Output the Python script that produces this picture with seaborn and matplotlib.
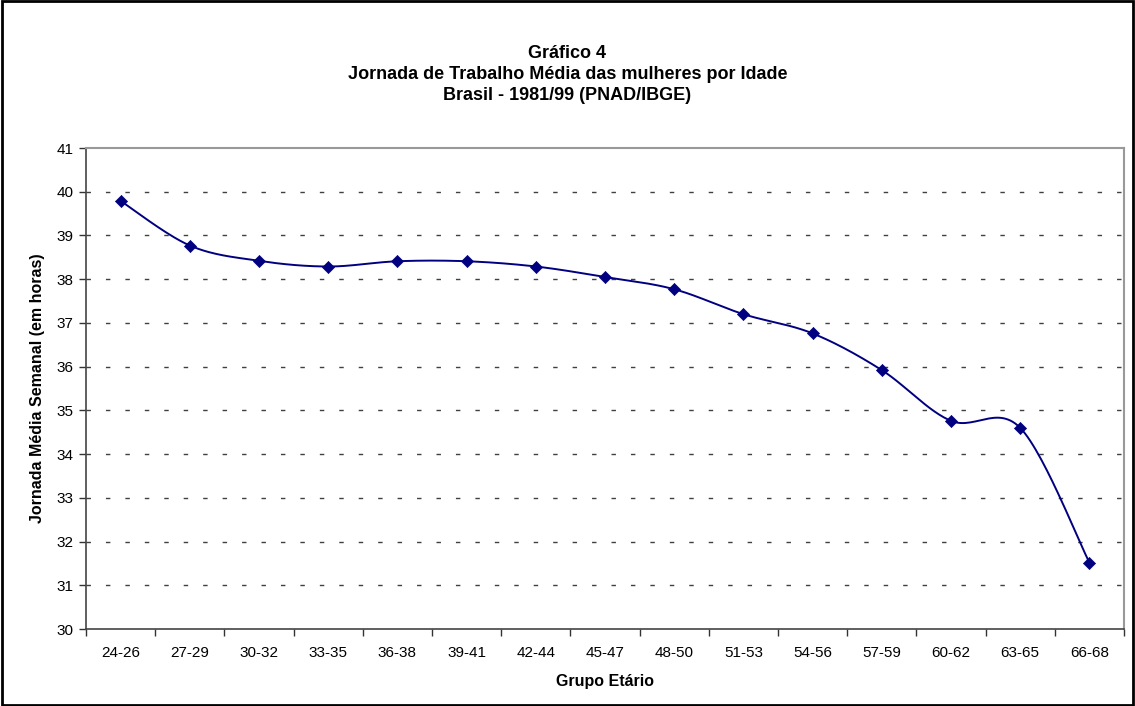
import numpy as np
import pandas as pd
import matplotlib
matplotlib.use("Agg")
import matplotlib.pyplot as plt
import seaborn as sns
from matplotlib.patches import Rectangle

categories = ["24-26", "27-29", "30-32", "33-35", "36-38", "39-41", "42-44", "45-47",
              "48-50", "51-53", "54-56", "57-59", "60-62", "63-65", "66-68"]
values = [39.79, 38.77, 38.42, 38.29, 38.41, 38.41, 38.29, 38.05,
          37.77, 37.20, 36.76, 35.92, 34.76, 34.60, 31.52]
y_ticks = list(range(30, 42))

sns.set_theme(style="white")
plt.rcParams["font.family"] = ["Liberation Sans", "DejaVu Sans"]
plt.rcParams["text.color"] = "black"
plt.rcParams["axes.labelcolor"] = "black"
plt.rcParams["xtick.color"] = "black"
plt.rcParams["ytick.color"] = "black"

df = pd.DataFrame({"pos": np.arange(len(categories)), "val": values, "cat": categories})

# Catmull-Rom style smoothing (like Excel "smoothed line") for drawing the curve
def smooth(x, y, n=30):
    x = np.asarray(x, float); y = np.asarray(y, float)
    px = np.concatenate([[x[0]], x, [x[-1]]]); py = np.concatenate([[y[0]], y, [y[-1]]])
    xs, ys = [], []
    for i in range(1, len(px) - 2):
        p0, p1, p2, p3 = (np.array([px[j], py[j]]) for j in (i - 1, i, i + 1, i + 2))
        c1 = p1 + (p2 - p0) / 6.0
        c2 = p2 - (p3 - p1) / 6.0
        t = np.linspace(0, 1, n)[:, None]
        pts = (1 - t) ** 3 * p1 + 3 * (1 - t) ** 2 * t * c1 + 3 * (1 - t) * t ** 2 * c2 + t ** 3 * p2
        xs.append(pts[:, 0]); ys.append(pts[:, 1])
    return np.concatenate(xs), np.concatenate(ys)

sx, sy = smooth(df["pos"], df["val"])
curve = pd.DataFrame({"x": sx, "y": sy})

fig = plt.figure(figsize=(11.35, 7.06), dpi=100)
ax = fig.add_axes([86 / 1135, 1 - 629 / 706, (1124 - 86) / 1135, (629 - 148) / 706])

navy = "#000080"
sns.lineplot(data=curve, x="x", y="y", ax=ax, color=navy, linewidth=1.4, sort=False, estimator=None)
sns.scatterplot(data=df, x="pos", y="val", ax=ax, marker="D", s=38, color=navy,
                edgecolor=navy, linewidth=0.5, zorder=5)

ax.set_xlim(-0.5, len(categories) - 0.5)
ax.set_ylim(30, 41)
ax.set_yticks(y_ticks)
ax.set_yticklabels([str(v) for v in y_ticks], fontsize=11)
ax.set_xticks(df["pos"])
ax.set_xticklabels(categories, fontsize=11)
ax.set_xticks(np.arange(-0.5, len(categories), 1), minor=True)
ax.tick_params(axis="x", which="major", length=0, pad=12)
ax.tick_params(axis="x", which="minor", length=5, width=1, color="#333333", direction="out", bottom=True)
ax.tick_params(axis="y", which="major", length=5, width=1, color="#333333", direction="out", left=True, pad=4)

for v in y_ticks[1:-1]:
    ax.axhline(v, color="#404040", linestyle=(0, (3.2, 10.8)), linewidth=1, zorder=1)

for side in ["left", "bottom"]:
    ax.spines[side].set_color("#444444"); ax.spines[side].set_linewidth(1.2)
for side in ["top", "right"]:
    ax.spines[side].set_color("#999999"); ax.spines[side].set_linewidth(1.5)

ax.set_xlabel("Grupo Etário", fontsize=11.5, fontweight="bold", labelpad=10)
ax.set_ylabel("Jornada Média Semanal (em horas)", fontsize=11.5, fontweight="bold", labelpad=8)

title_lines = ["Gráfico 4", "Jornada de Trabalho Média das mulheres por Idade", "Brasil - 1981/99 (PNAD/IBGE)"]
for line, yb in zip(title_lines, [58, 79, 100]):
    fig.text(0.5, 1 - yb / 706, line, ha="center", va="baseline", fontsize=13, fontweight="bold")

fig.patches.append(Rectangle((0.0015, 0.002), 0.997, 0.996, transform=fig.transFigure,
                             fill=False, edgecolor="black", linewidth=2))

fig.savefig("out.png", dpi=100)
